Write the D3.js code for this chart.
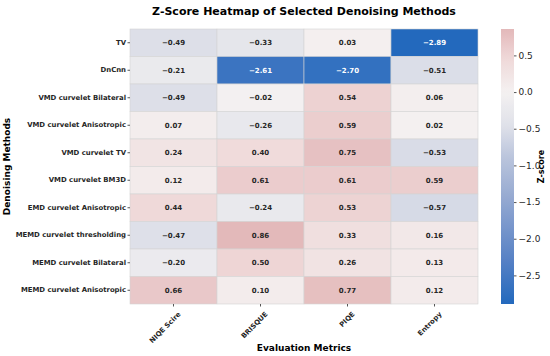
<!DOCTYPE html>
<html>
<head>
<meta charset="utf-8">
<script src="https://cdn.jsdelivr.net/npm/d3@7"></script>
<style>
	body { margin: 0; background: #fff; }
	text { font-family: 'DejaVu Sans', sans-serif; }
</style>
</head>
<body>
<div id="viz"></div>
<script>
const methods = [
	'TV',
	'DnCnn',
	'VMD curvelet Bilateral',
	'VMD curvelet Anisotropic',
	'VMD curvelet TV',
	'VMD curvelet BM3D',
	'EMD curvelet Anisotropic',
	'MEMD curvelet thresholding',
	'MEMD curvelet Bilateral',
	'MEMD curvelet Anisotropic'
]
const metrics = ['NIQE Scire', 'BRISQUE', 'PIQE', 'Entropy']

const niqe = [-0.49, -0.21, -0.49, 0.07, 0.24, 0.12, 0.44, -0.47, -0.2, 0.66]
const brisque = [-0.33, -2.61, -0.02, -0.26, 0.4, 0.61, -0.24, 0.86, 0.5, 0.1]
const piqe = [0.03, -2.7, 0.54, 0.59, 0.75, 0.61, 0.53, 0.33, 0.26, 0.77]
const entropy = [-2.89, -0.51, 0.06, 0.02, -0.53, 0.59, -0.57, 0.16, 0.13, 0.12]
const colorbar_ticks = [0.5, 0, -0.5, -1, -1.5, -2, -2.5]

const columns = [niqe, brisque, piqe, entropy]
const cells = []
methods.forEach((m, i) => {
	metrics.forEach((k, j) => {
		cells.push({ method: m, metric: k, value: columns[j][i] })
	})
})

const WIDTH = 550
const HEIGHT = 356
const LEFT = 130, RIGHT = 478, TOP = 29, BOTTOM = 304

const vmin = d3.min(cells, (d) => d.value)
const vmax = d3.max(cells, (d) => d.value)
const vrange = Math.max(Math.abs(vmin), Math.abs(vmax))

// approximation of seaborn's vlag palette
const vlag = d3
	.scaleLinear()
	.domain([0, 0.1, 0.25, 0.35, 0.42, 0.5, 0.58, 0.65, 0.75, 0.875, 1])
	.range(['#2369bd', '#5580c5', '#95a9d1', '#bcc6dd', '#dfe1e9', '#f4f1f1',
		'#efd8d8', '#e3b8b9', '#d08e8f', '#bd6264', '#a9373b'])
	.interpolate(d3.interpolateRgb)
const color = (v) => vlag(0.5 + v / (2 * vrange))

const fmt = (v) => d3.format('.2f')(v).replace('-', '\u2212')

const svg = d3
	.select('#viz')
	.append('svg')
	.attr('width', WIDTH)
	.attr('height', HEIGHT)

const x = d3.scaleBand().domain(metrics).range([LEFT, RIGHT])
const y = d3.scaleBand().domain(methods).range([TOP, BOTTOM])

svg.append('text')
	.attr('x', (LEFT + RIGHT) / 2)
	.attr('y', 15)
	.attr('text-anchor', 'middle')
	.style('font-size', '11px')
	.style('font-weight', 'bold')
	.text('Z-Score Heatmap of Selected Denoising Methods')

const cell = svg
	.append('g')
	.selectAll('g')
	.data(cells)
	.enter()
	.append('g')

cell.append('rect')
	.attr('x', (d) => x(d.metric))
	.attr('y', (d) => y(d.method))
	.attr('width', x.bandwidth())
	.attr('height', y.bandwidth())
	.attr('fill', (d) => color(d.value))
	.attr('stroke', '#d4d4d4')
	.attr('stroke-width', 0.6)

cell.append('text')
	.attr('x', (d) => x(d.metric) + x.bandwidth() / 2)
	.attr('y', (d) => y(d.method) + y.bandwidth() / 2)
	.attr('text-anchor', 'middle')
	.attr('dy', '0.35em')
	.style('font-size', '7px')
	.style('font-weight', 'bold')
	.attr('fill', (d) => {
		const c = d3.rgb(color(d.value))
		const lum = (0.2126 * c.r + 0.7152 * c.g + 0.0722 * c.b) / 255
		return lum < 0.45 ? '#fff' : '#262626'
	})
	.text((d) => fmt(d.value))

// y axis
const yAxis = svg
	.append('g')
	.attr('transform', `translate(${LEFT},0)`)
	.call(d3.axisLeft(y).tickSize(2.5).tickPadding(1.5))
yAxis.select('.domain').remove()
yAxis.selectAll('line').attr('stroke', '#555')
yAxis.selectAll('text')
	.style('font-size', '6.9px')
	.style('font-weight', 'bold')
	.style('font-family', "'DejaVu Sans', sans-serif")
	.attr('fill', '#262626')

// x axis
const xAxis = svg
	.append('g')
	.attr('transform', `translate(0,${BOTTOM})`)
	.call(d3.axisBottom(x).tickSize(2.5).tickPadding(2))
xAxis.select('.domain').remove()
xAxis.selectAll('line').attr('stroke', '#555')
xAxis.selectAll('text')
	.style('font-size', '6.9px')
	.style('font-weight', 'bold')
	.style('font-family', "'DejaVu Sans', sans-serif")
	.attr('fill', '#262626')
	.attr('text-anchor', 'end')
	.attr('dy', '0.3em')
	.attr('transform', 'translate(3,6) rotate(-45)')

svg.append('text')
	.attr('x', (LEFT + RIGHT) / 2)
	.attr('y', 351)
	.attr('text-anchor', 'middle')
	.style('font-size', '9px')
	.style('font-weight', 'bold')
	.text('Evaluation Metrics')

svg.append('text')
	.attr('transform', `translate(10,${(TOP + BOTTOM) / 2}) rotate(-90)`)
	.attr('text-anchor', 'middle')
	.style('font-size', '9px')
	.style('font-weight', 'bold')
	.text('Denoising Methods')

// colorbar
const CB_X = 501, CB_W = 13
const cy = d3.scaleLinear().domain([vmin, vmax]).range([BOTTOM, TOP])
const grad = svg
	.append('defs')
	.append('linearGradient')
	.attr('id', 'cbgrad')
	.attr('x1', 0).attr('y1', 1).attr('x2', 0).attr('y2', 0)
d3.range(0, 1.0001, 0.02).forEach((t) => {
	grad.append('stop')
		.attr('offset', t)
		.attr('stop-color', color(vmin + t * (vmax - vmin)))
})
svg.append('rect')
	.attr('x', CB_X)
	.attr('y', TOP)
	.attr('width', CB_W)
	.attr('height', BOTTOM - TOP)
	.attr('fill', 'url(#cbgrad)')

const cAxis = svg
	.append('g')
	.attr('transform', `translate(${CB_X + CB_W},0)`)
	.call(
		d3.axisRight(cy)
			.tickValues(colorbar_ticks)
			.tickFormat((v) => d3.format('.1f')(v).replace('-', '\u2212'))
			.tickSize(2.5)
			.tickPadding(2)
	)
cAxis.select('.domain').remove()
cAxis.selectAll('line').attr('stroke', '#555')
cAxis.selectAll('text')
	.style('font-size', '9px')
	.style('font-family', "'DejaVu Sans', sans-serif")
	.attr('fill', '#262626')

svg.append('text')
	.attr('transform', `translate(544,${(TOP + BOTTOM) / 2}) rotate(-90)`)
	.attr('text-anchor', 'middle')
	.style('font-size', '8px')
	.style('font-weight', 'bold')
	.text('Z-score')
</script>
</body>
</html>
